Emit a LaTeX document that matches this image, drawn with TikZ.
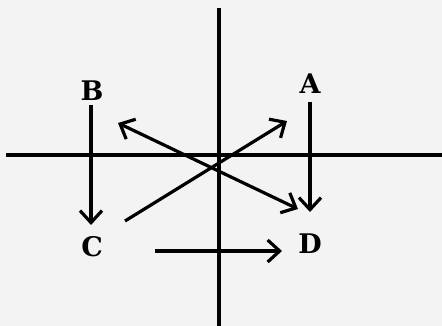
\documentclass[tikz,border=0pt]{standalone}
\usepackage{fontspec}
\newfontfamily\labelfont{DejaVu Serif}
\usetikzlibrary{arrows.meta}
\definecolor{paper}{RGB}{243,243,243}

\begin{document}
\begin{tikzpicture}[
  x=1pt,y=-1pt,
  >={Straight Barb[length=12pt,width=22pt,line width=3.2pt]},
  axis/.style={line width=3.2pt},
  move/.style={->,line width=3.2pt},
  place/.style={font=\fontsize{27}{27}\labelfont\bfseries,inner sep=0pt}
]
  \fill[paper] (0,0) rectangle (442,326);
  \useasboundingbox (0,0) rectangle (442,326);
  % axes
  \coordinate (top) at (219,8);
  \coordinate (bottom) at (219,326);
  \coordinate (left) at (6,155);
  \coordinate (right) at (442,155);
  \draw[axis] (top) -- (bottom);
  \draw[axis] (left) -- (right);
  % positions
  \node[place] (B) at (92,91) {B};
  \node[place] (A) at (310,84) {A};
  \node[place] (C) at (92,247) {C};
  \node[place] (D) at (310,244) {D};
  % end points
  \coordinate (b1) at (91,105);
  \coordinate (b2) at (91,225);
  \coordinate (a1) at (310,102);
  \coordinate (a2) at (310,212);
  \coordinate (c1) at (125,221);
  \coordinate (a3) at (287,121);
  \coordinate (b3) at (118,123);
  \coordinate (d1) at (298,209);
  \coordinate (c2) at (155,251);
  \coordinate (d2) at (282,251);
  \draw[move] (b1) -- (b2);
  \draw[move] (a1) -- (a2);
  \draw[move] (c1) -- (a3);
  \draw[move,<->] (b3) -- (d1);
  \draw[move] (c2) -- (d2);
\end{tikzpicture}
\end{document}
